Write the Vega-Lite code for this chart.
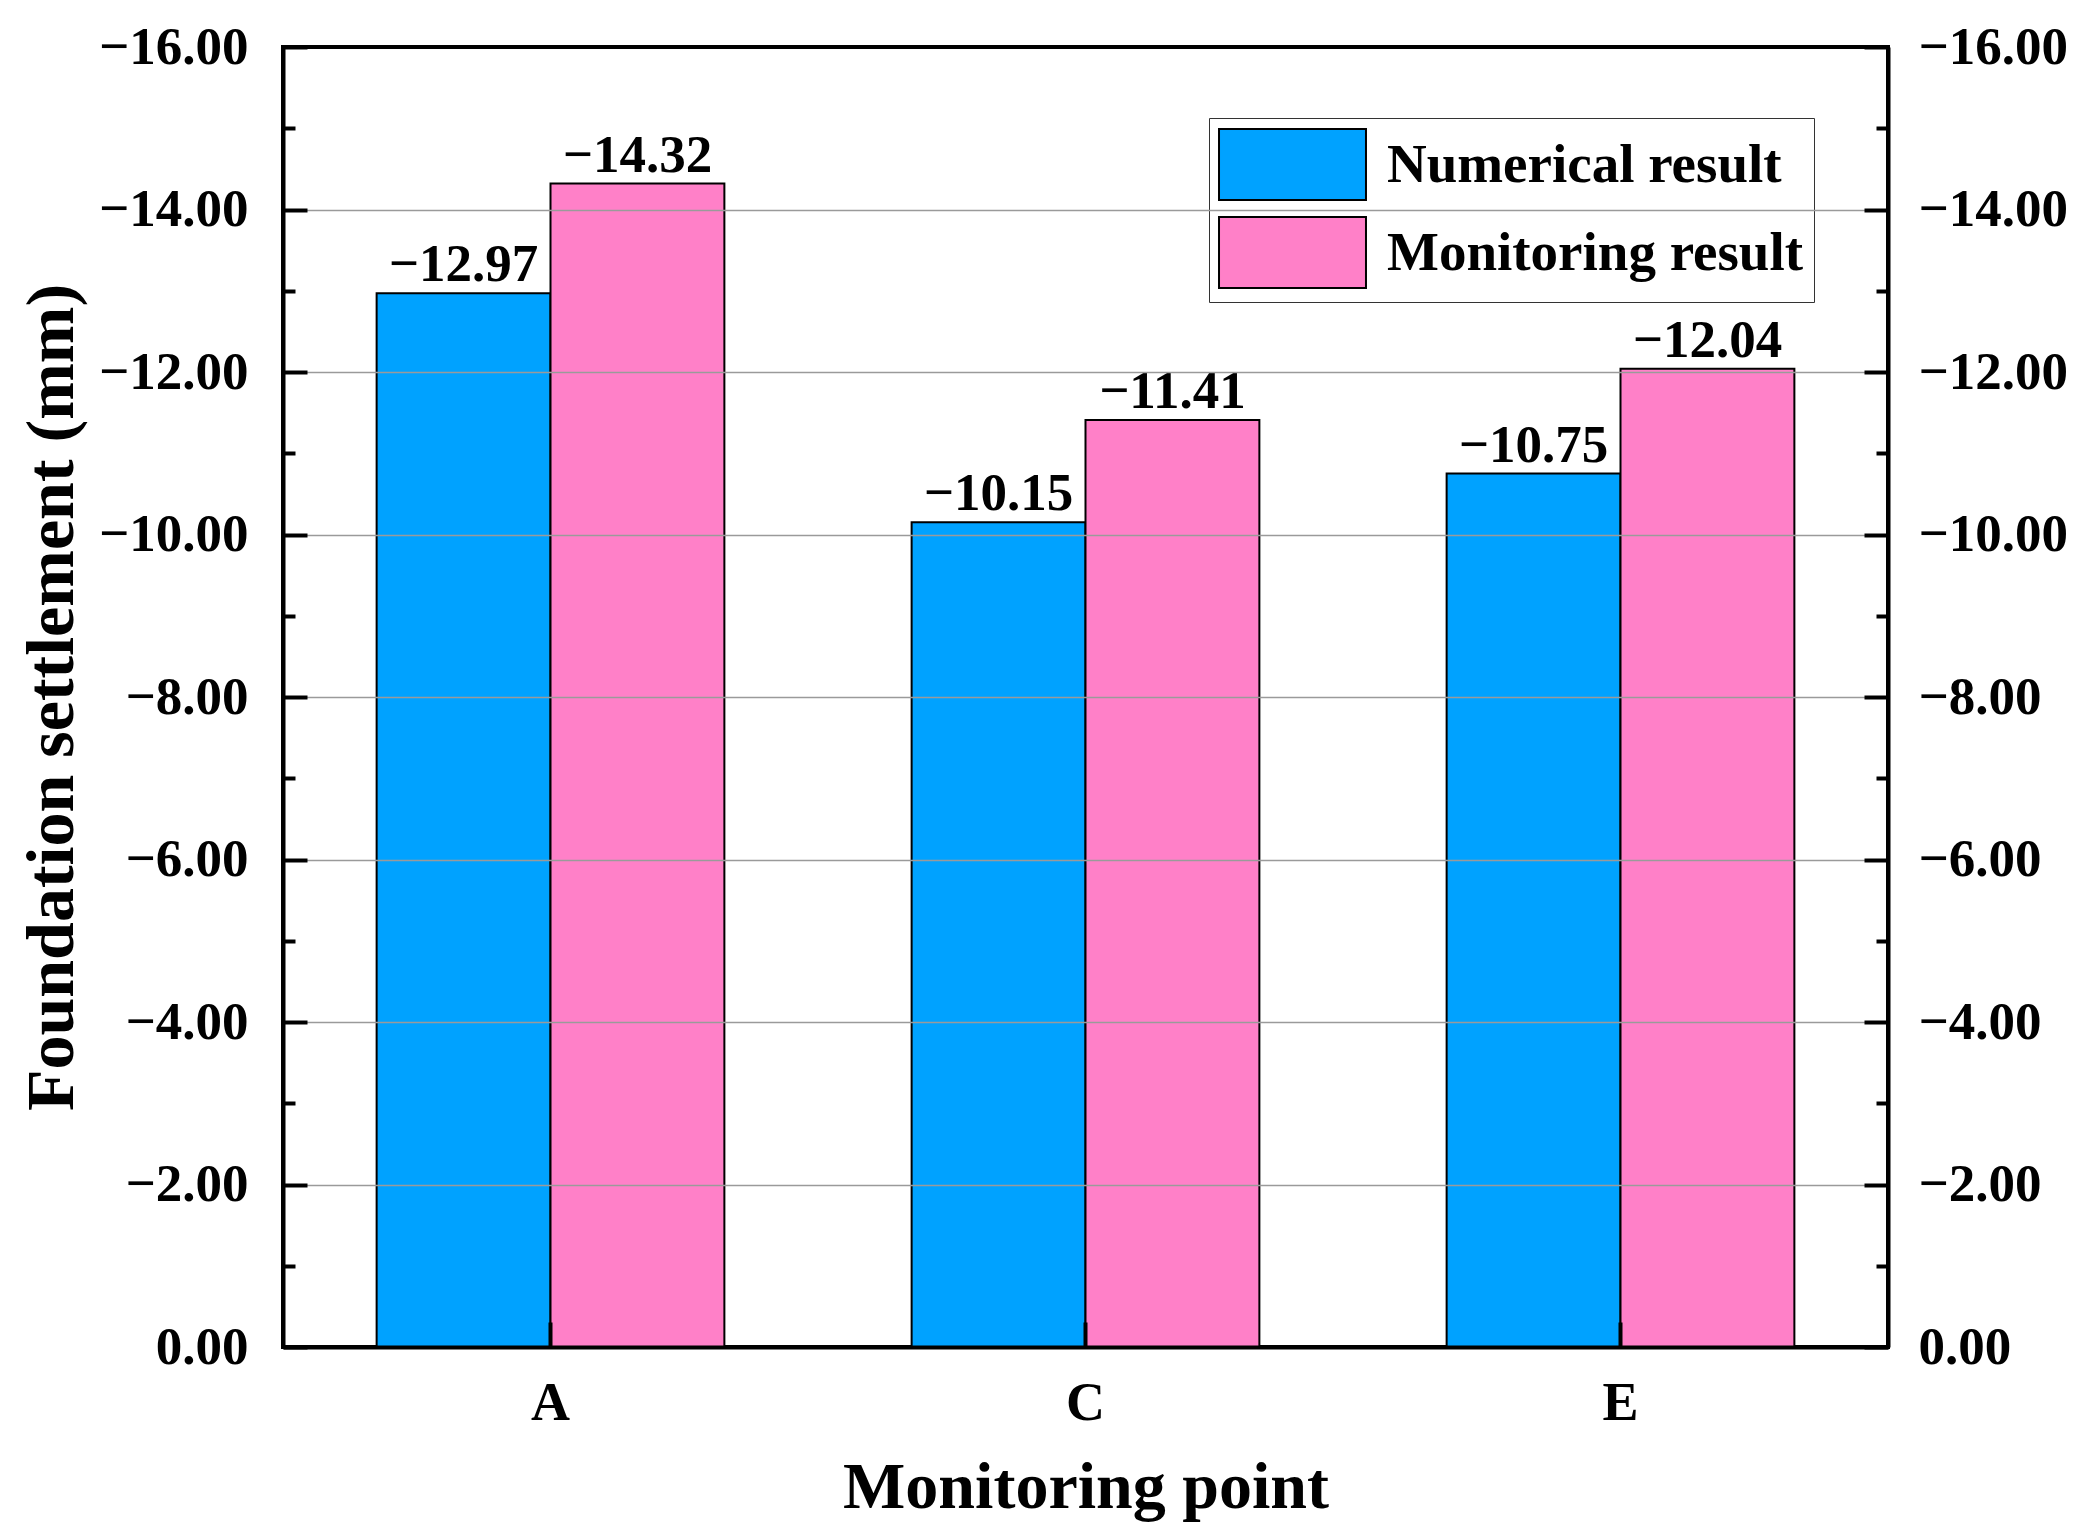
{
  "$schema": "https://vega.github.io/schema/vega-lite/v6.json",
  "width": 1605,
  "height": 1300,
  "autosize": {"type": "none"},
  "padding": {"left": 283, "top": 47, "right": 206, "bottom": 192},
  "background": "white",
  "data": {
    "values": [
      {"point": "A", "series": "Numerical result", "value": -12.97},
      {"point": "A", "series": "Monitoring result", "value": -14.32},
      {"point": "C", "series": "Numerical result", "value": -10.15},
      {"point": "C", "series": "Monitoring result", "value": -11.41},
      {"point": "E", "series": "Numerical result", "value": -10.75},
      {"point": "E", "series": "Monitoring result", "value": -12.04}
    ]
  },
  "encoding": {
    "x": {
      "field": "point",
      "type": "nominal",
      "scale": {"paddingInner": 0.35, "paddingOuter": 0.175},
      "axis": {
        "orient": "bottom",
        "title": "Monitoring point",
        "labelAngle": 0,
        "labelFontSize": 54,
        "labelBaseline": "alphabetic",
        "labelPadding": 97,
        "tickSize": -25,
        "tickWidth": 4,
        "domainWidth": 4,
        "titleFontSize": 66,
        "titleBaseline": "alphabetic",
        "titleY": 160,
        "zindex": 1
      }
    },
    "xOffset": {
      "field": "series",
      "type": "nominal",
      "sort": ["Numerical result", "Monitoring result"]
    }
  },
  "layer": [
    {
      "mark": {"type": "bar", "stroke": "black", "strokeWidth": 2},
      "encoding": {
        "y": {
          "field": "value",
          "type": "quantitative",
          "scale": {"domain": [-16, 0], "reverse": true, "nice": false, "zero": false},
          "axis": {
            "orient": "left",
            "values": [0, -1, -2, -3, -4, -5, -6, -7, -8, -9, -10, -11, -12, -13, -14, -15, -16],
            "format": ".2f",
            "labelFontSize": 53,
            "labelOpacity": {"condition": {"test": "datum.value % 2 !== 0", "value": 0}, "value": 1},
            "labelPadding": 59,
            "labelFlush": false,
            "labelOverlap": false,
            "labelBound": false,
            "tickSize": {"condition": {"test": "datum.value % 2 !== 0", "value": -12}, "value": -24},
            "tickWidth": 4,
            "domainWidth": 4,
            "grid": true,
            "gridColor": "#9a9a9a",
            "gridWidth": 1.5,
            "gridOpacity": {"condition": {"test": "datum.value % 2 !== 0 || datum.value == 0 || datum.value == -16", "value": 0}, "value": 1},
            "title": "Foundation settlement (mm)",
            "titleFontSize": 68,
            "titleAngle": 270,
            "titleBaseline": "alphabetic",
            "titleX": -211,
            "titleY": 650,
            "zindex": 1
          }
        },
        "color": {
          "field": "series",
          "type": "nominal",
          "sort": ["Numerical result", "Monitoring result"],
          "scale": {"domain": ["Numerical result", "Monitoring result"], "range": ["#00A2FF", "#FF80C8"]},
          "legend": {
            "title": null,
            "orient": "none",
            "legendX": 926,
            "legendY": 71,
            "symbolType": "M-2.07,-1H2.07V1H-2.07Z",
            "symbolSize": 5041,
            "symbolStrokeColor": "black",
            "symbolStrokeWidth": 2,
            "symbolOpacity": 1,
            "symbolOffset": 37,
            "labelOffset": 58,
            "labelFontSize": 55,
            "labelLimit": 1000,
            "rowPadding": 9,
            "padding": 10,
            "strokeColor": "#333333",
            "fillColor": "white"
          }
        }
      }
    },
    {
      "mark": {
        "type": "text",
        "baseline": "alphabetic",
        "align": "center",
        "dy": -12,
        "fontSize": 53,
        "fontWeight": "bold",
        "color": "black"
      },
      "encoding": {
        "y": {
          "field": "value",
          "type": "quantitative",
          "scale": {"domain": [-16, 0], "reverse": true, "nice": false, "zero": false},
          "axis": {
            "orient": "right",
            "values": [0, -1, -2, -3, -4, -5, -6, -7, -8, -9, -10, -11, -12, -13, -14, -15, -16],
            "format": ".2f",
            "labelFontSize": 53,
            "labelOpacity": {"condition": {"test": "datum.value % 2 !== 0", "value": 0}, "value": 1},
            "labelPadding": 54,
            "labelFlush": false,
            "labelOverlap": false,
            "labelBound": false,
            "tickSize": {"condition": {"test": "datum.value % 2 !== 0", "value": -12}, "value": -24},
            "tickWidth": 4,
            "domainWidth": 4,
            "grid": false,
            "title": null,
            "zindex": 1
          }
        },
        "text": {"field": "value", "type": "quantitative", "format": ".2f"}
      }
    }
  ],
  "resolve": {"scale": {"y": "independent"}},
  "config": {
    "font": "Liberation Serif",
    "view": {"stroke": "black", "strokeWidth": 4},
    "axis": {
      "labelFont": "Liberation Serif",
      "labelFontWeight": "bold",
      "labelColor": "black",
      "titleFont": "Liberation Serif",
      "titleFontWeight": "bold",
      "titleColor": "black",
      "tickColor": "black",
      "domainColor": "black"
    },
    "legend": {
      "labelFont": "Liberation Serif",
      "labelFontWeight": "bold",
      "labelColor": "black"
    },
    "text": {"font": "Liberation Serif"}
  }
}
